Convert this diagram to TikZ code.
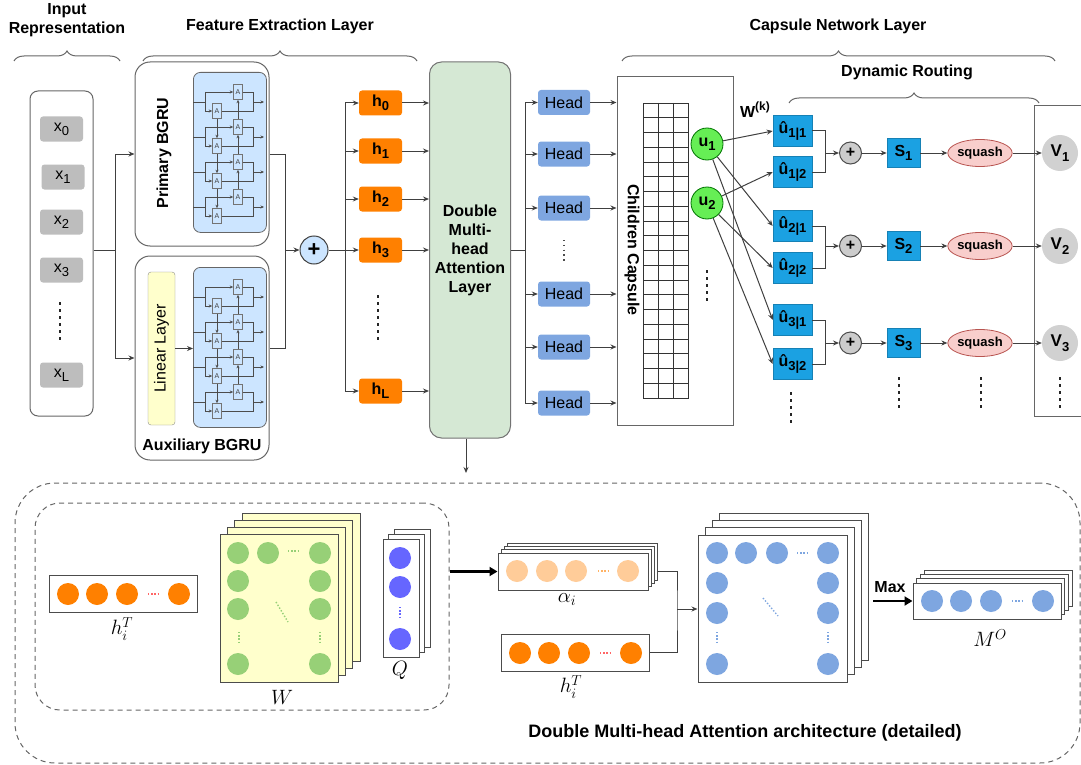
\documentclass[tikz,border=0pt]{standalone}
\usepackage{fontspec}
\setmainfont{Liberation Sans}
\usetikzlibrary{positioning,arrows.meta,calc,shapes.geometric,decorations.pathreplacing}

\definecolor{xgray}{HTML}{BDBDBD}
\definecolor{panelblue}{HTML}{CCE5FF}
\definecolor{linyellow}{HTML}{FFFFCC}
\definecolor{horange}{HTML}{FF8000}
\definecolor{attgreen}{HTML}{D5E8D4}
\definecolor{headblue}{HTML}{7EA6E0}
\definecolor{ugreen}{HTML}{66EE55}
\definecolor{routeblue}{HTML}{1BA1E2}
\definecolor{squashfill}{HTML}{F8CECC}
\definecolor{squashline}{HTML}{B85450}
\definecolor{lorange}{HTML}{FFCC99}
\definecolor{wgreen}{HTML}{97D077}
\definecolor{qblue}{HTML}{6666FF}
\definecolor{dotpink}{HTML}{FF6666}
\definecolor{dotorange}{HTML}{FFB366}

% lowered / raised small text for indices
\newcommand\sbs[1]{\raisebox{-0.5ex}{\fontsize{13}{13}\selectfont #1}}
\newcommand\sps[1]{\raisebox{0.8ex}{\fontsize{12}{12}\selectfont #1}}

\tikzset{
  lbl/.style={font=\fontsize{16}{19}\selectfont},
  blbl/.style={font=\fontsize{16}{19}\selectfont\bfseries},
  mlbl/.style={font=\fontsize{22}{24}\selectfont},
  ln/.style={draw=black!75, line width=1pt},
  arr/.style={ln, -{Stealth[length=6pt,width=5pt]}},
  bigarr/.style={draw=black, line width=2.4pt, -{Triangle[length=8pt,width=9pt]}},
  brc/.style={draw=black!60, line width=1pt, decorate, decoration={brace, amplitude=10pt}},
  frame/.style={draw=black!60, line width=1pt, fill=white, inner sep=0pt},
  xin/.style={lbl, fill=xgray, rounded corners=3pt, minimum width=43pt, minimum height=25pt, inner sep=0pt},
  linbox/.style={lbl, draw=black!45, fill=linyellow, rounded corners=3pt, inner sep=0pt},
  bigsum/.style={circle, draw=black!75, line width=1pt, fill=panelblue, minimum size=28pt, inner sep=0pt, font=\fontsize{22}{22}\selectfont\bfseries},
  hbox/.style={blbl, fill=horange, rounded corners=3pt, minimum width=43pt, minimum height=25pt, inner sep=0pt},
  attbox/.style={blbl, draw=black!55, line width=1pt, fill=attgreen, rounded corners=12pt, minimum width=81pt, minimum height=376pt, align=center},
  headbox/.style={lbl, fill=headblue, rounded corners=3pt, minimum width=52pt, minimum height=25pt, inner sep=0pt},
  gridln/.style={draw=black!80, line width=0.8pt},
  ucap/.style={circle, blbl, draw=green!45!black, line width=0.8pt, fill=ugreen, minimum size=32pt, inner sep=0pt},
  uhat/.style={blbl, fill=routeblue, draw=routeblue!80!black, line width=0.6pt, minimum width=39pt, minimum height=31pt, inner sep=0pt},
  sbox/.style={uhat, minimum width=33pt, minimum height=29pt},
  sum/.style={circle, draw=black!70, line width=1pt, fill=black!20, minimum size=22pt, inner sep=0pt, font=\fontsize{16}{16}\selectfont\bfseries},
  squash/.style={ellipse, draw=squashline, line width=0.8pt, fill=squashfill, minimum width=60pt, minimum height=27pt, inner sep=0pt, font=\fontsize{13}{13}\selectfont\bfseries},
  vcap/.style={circle, fill=black!18, minimum size=36pt, inner sep=0pt, font=\fontsize{17}{17}\selectfont\bfseries},
  vdots/.style={draw=black!85, line width=2.5pt, dash pattern=on 2.5pt off 4.5pt},
  sdots/.style={draw=black!70, line width=1.4pt, dash pattern=on 1.4pt off 3.4pt},
  hdots/.style={line width=1.4pt, dash pattern=on 1.4pt off 1.8pt},
  dashbox/.style={draw=black!60, line width=1pt, dash pattern=on 5pt off 4pt, inner sep=0pt},
  layer/.style={draw=black!70, line width=1pt, fill=white, inner sep=0pt},
  dot/.style={circle, minimum size=22pt, inner sep=0pt},
  % little BGRU cells
  bgrupanel/.style={draw=black!60, line width=0.8pt, fill=panelblue, rounded corners=7pt, minimum width=73pt, minimum height=160pt, inner sep=0pt},
  acell/.style={draw=black!55, line width=0.6pt, fill=panelblue, minimum width=9pt, minimum height=15pt, inner sep=0pt, font=\fontsize{7}{7}\selectfont, text=black!75},
  cellline/.style={draw=black!70, line width=0.6pt},
  celltip/.style={cellline, -{Stealth[length=3.5pt,width=3pt]}},
}

% bidirectional GRU icon: #1 name, (#2,#3) top left corner
\newcommand\bgrucell[3]{%
  \node[bgrupanel, anchor=north west] (#1) at (#2,#3) {};
  \foreach \k in {0,...,3}{%
    \pgfmathsetmacro\yin{#3+30+35*\k}
    \node[acell] (#1b\k) at (#2+45,\yin-10) {A};
    \node[acell] (#1f\k) at (#2+24,\yin+9) {A};
    \draw[cellline] (#2,\yin) -- (#2+12,\yin) (#2+12,\yin-10) -- (#2+12,\yin+9);
    \draw[celltip] (#2+12,\yin-10) -- (#1b\k.west);
    \draw[celltip] (#2+12,\yin+9) -- (#1f\k.west);
    \draw[cellline] (#1b\k.east) -- (#2+60,\yin-10) -- (#2+60,\yin+9) -- (#1f\k.east);
    \draw[celltip] (#2+60,\yin) -- (#2+71,\yin);
  }
  \foreach \k [evaluate=\k as \kn using int(\k+1)] in {0,1,2}{%
    \draw[celltip] (#1f\k.south) -- (#1f\kn.north);
    \draw[celltip] (#1b\kn.north) -- (#1b\k.south);
  }
}

\begin{document}
\begin{tikzpicture}[x=1pt,y=-1pt]
\useasboundingbox (0,0) rectangle (1081,765);

% section titles
\node[blbl, align=center] (t-in) at (67,20) {Input\\Representation};
\node[blbl] (t-fe) at (280,26) {Feature Extraction Layer};
\node[blbl] (t-cn) at (838,26) {Capsule Network Layer};
\node[blbl] (t-dr) at (907,72) {Dynamic Routing};
\draw[brc] (14,61) -- (120,61);
\draw[brc] (143,61) -- (417,61);
\draw[brc] (622,61) -- (1055,61);
\draw[brc] (789,103) -- (1039,103);

% input tokens
\node[frame, rounded corners=8pt, minimum width=63pt, minimum height=325pt] (inp) at (61.5,253.5) {};
\node[xin] (x0) at (61.5,129) {x\sbs{0}};
\node[xin] (x1) at (63,177) {x\sbs{1}};
\node[xin] (x2) at (61.5,222) {x\sbs{2}};
\node[xin] (x3) at (61.5,270) {x\sbs{3}};
\node[xin] (xL) at (61.5,375) {x\sbs{L}};
\draw[vdots] (60,302) -- (60,342);

% primary and auxiliary BGRU
\node[frame, rounded corners=15pt, minimum width=134pt, minimum height=184pt] (prim) at (202,154) {};
\node[blbl, rotate=90] (prim-t) at (164,153) {Primary BGRU};
\bgrucell{pc}{193}{72}
\node[frame, rounded corners=15pt, minimum width=134pt, minimum height=204pt] (aux) at (202,358) {};
\node[blbl] (aux-t) at (202,446) {Auxiliary BGRU};
\node[linbox, rotate=90, minimum width=153pt, minimum height=27pt] (lin) at (161.5,348.5) {Linear Layer};
\bgrucell{ac}{193}{267}
\draw[arr] (lin) -- (lin -| ac.west);

\node[bigsum] (plus) at (314,250) {+};
\draw[ln] (inp.east |- plus) -- ++(22,0) coordinate (j1);
\draw[arr] (j1) |- (prim.west);
\draw[arr] (j1) |- (aux.west);
\draw[ln] (prim.east) -- ++(16,0) coordinate (j2) |- (aux.east |- lin);
\draw[arr] (j2 |- plus) -- (plus);

% hidden states
\foreach \n/\yy in {0/103,1/151,2/199,3/250,L/391}
  \node[hbox] (h\n) at (380.5,\yy) {h\sbs{\n}};
\draw[vdots] (378,295) -- (378,343);
\coordinate (j3) at (345,250);
\draw[ln] (plus) -- (j3);
\draw[ln] (j3 |- h0) -- (j3 |- hL);
\node[attbox] (att) at (470,250) {Double\\Multi-\\head\\Attention\\Layer};
\foreach \n in {0,1,2,3,L}{
  \draw[arr] (j3 |- h\n) -- (h\n.west);
  \draw[arr] (h\n.east) -- (h\n.east -| att.west);}

% heads
\foreach \n/\yy in {1/102.5,2/154,3/208,4/294,5/347,6/403}
  \node[headbox] (hd\n) at (564,\yy) {Head};
\draw[sdots] (564,240) -- (564,263);
\node[frame, minimum width=116pt, minimum height=348pt] (cap) at (675,251) {};
\coordinate (j4) at (525,250);
\draw[ln] (att.east) -- (j4);
\draw[ln] (j4 |- hd1) -- (j4 |- hd6);
\foreach \n in {1,...,6}{
  \draw[arr] (j4 |- hd\n) -- (hd\n.west);
  \draw[arr] (hd\n.east) -- (hd\n.east -| cap.west);}

% children capsule grid
\node[blbl, rotate=-90] (cap-t) at (632,250) {Children Capsule};
\draw[gridln] (643,103) rectangle (688,398);
\foreach \c in {1,2}
  \draw[gridln] (643+15*\c,103) -- (643+15*\c,398);
\foreach \r in {1,...,19}
  \draw[gridln] (643,103+14.75*\r) -- (688,103+14.75*\r);
\node[ucap] (u1) at (707,144) {u\sbs{1}};
\node[ucap] (u2) at (707,203) {u\sbs{2}};
\draw[vdots] (707,270) -- (707,303);
\node[blbl] (wk) at (755,110) {W\sps{(k)}};

% dynamic routing
\foreach \a/\b/\yy in {1/1/131,1/2/172,2/1/226,2/2/268,3/1/320,3/2/364}
  \node[uhat] (uh\a\b) at (792.5,\yy) {\^u\sbs{\a|\b}};
\draw[vdots] (791,392) -- (791,425);
\draw[arr] (u1) -- (uh11.west);
\draw[arr] (u2) -- (uh12.west);
\draw[arr] (u1) -- (uh21.west);
\draw[arr] (u2) -- (uh22.west);
\draw[arr] (u1) -- (uh31.west);
\draw[arr] (u2) -- (uh32.west);
\draw[ln, draw=black!60] (1090,106) -- (1034,106) -- (1034,416) -- (1090,416);
\foreach \k/\yy in {1/153,2/246,3/343}{
  \node[sum] (pl\k) at (850.5,\yy) {+};
  \node[sbox] (s\k) at (903.5,\yy) {S\sbs{\k}};
  \node[squash] (sq\k) at (980,\yy) {squash};
  \node[vcap] (v\k) at (1060,\yy) {V\sbs{\k}};
  \draw[ln] (uh\k1.east) -- ++(13,0) coordinate (br\k) |- (uh\k2.east);
  \draw[arr] (br\k |- pl\k) -- (pl\k);
  \draw[arr] (pl\k) -- (s\k);
  \draw[arr] (s\k) -- (sq\k);
  \draw[arr] (sq\k) -- (v\k);}
\draw[vdots] (899,377) -- (899,410);
\draw[vdots] (981,377) -- (981,410);
\draw[vdots] (1060,377) -- (1060,410);

% detailed attention block
\node[dashbox, rounded corners=40pt, minimum width=1065pt, minimum height=280pt] (dmha) at (547.5,623) {};
\node[dashbox, rounded corners=25pt, minimum width=414pt, minimum height=207pt] (qk) at (242,606.5) {};
\coordinate (down) at (466,473);
\draw[arr] (att.south -| down) -- (down);

% h_i^T row
\node[layer, minimum width=148pt, minimum height=37pt] (hl) at (123,593.5) {};
\foreach \xx in {68,97,127,179}
  \node[dot, fill=horange] at (\xx,594) {};
\draw[hdots, dotpink] (148,594) -- (159,594);
\node[mlbl, anchor=north] (hl-t) at (122,614) {$h_i^T$};

% W stack
\foreach \k in {3,2,1}
  \node[layer, fill=linyellow, minimum width=118pt, minimum height=148pt] (w\k) at (279+7.4*\k,608-7*\k) {};
\node[layer, fill=linyellow, minimum width=118pt, minimum height=148pt] (w) at (279,608) {};
\foreach \xx/\yy in {238/553,268/553,320/553,238/581,320/581,238/609,320/609,238/664,320/664}
  \node[dot, fill=wgreen] at (\xx,\yy) {};
\draw[hdots, wgreen] (288,551) -- (299,551);
\draw[hdots, wgreen] (239,632) -- (239,644);
\draw[hdots, wgreen] (320,632) -- (320,644);
\draw[hdots, wgreen] (276,602) -- (288,622);
\node[mlbl] (w-t) at (282,697) {$W$};

% Q stack
\foreach \k in {2,1}
  \node[layer, minimum width=36pt, minimum height=118pt] (q\k) at (401+5.5*\k,598-5*\k) {};
\node[layer, minimum width=36pt, minimum height=118pt] (q) at (401,598) {};
\foreach \yy in {558,587,639}
  \node[dot, fill=qblue] at (400,\yy) {};
\draw[hdots, qblue] (400,607) -- (400,619);
\node[mlbl] (q-t) at (400,670) {$Q$};

% alpha stack
\foreach \k in {3,2,1}
  \node[layer, minimum width=150pt, minimum height=37pt] (al\k) at (573+3.3*\k,571.5-3.3*\k) {};
\node[layer, minimum width=150pt, minimum height=37pt] (al) at (573,571.5) {};
\foreach \xx in {517,547,576,628}
  \node[dot, fill=lorange] at (\xx,571) {};
\draw[hdots, dotorange] (598,571) -- (609,571);
\node[mlbl, anchor=north] (al-t) at (567,590) {$\alpha_i$};
\draw[bigarr] (qk.east |- al) -- (al.west);

% h_i^T again
\node[layer, minimum width=148pt, minimum height=37pt] (hr) at (575,652.5) {};
\foreach \xx in {520,549,579,631}
  \node[dot, fill=horange] at (\xx,653) {};
\draw[hdots, dotpink] (600,653) -- (611,653);
\node[mlbl, anchor=north] (hr-t) at (571,672) {$h_i^T$};

% attention matrix stack
\foreach \k in {3,2,1}
  \node[layer, minimum width=149pt, minimum height=147pt] (mx\k) at (772.5+7.3*\k,608.5-7.3*\k) {};
\node[layer, minimum width=149pt, minimum height=147pt] (mx) at (772.5,608.5) {};
\foreach \xx/\yy in {717/553,746/553,777/553,828/553,717/583,828/583,717/613,828/613,717/664,828/664}
  \node[dot, fill=headblue] at (\xx,\yy) {};
\draw[hdots, headblue] (797,553) -- (808,553);
\draw[hdots, headblue] (717,632) -- (717,644);
\draw[hdots, headblue] (828,632) -- (828,644);
\draw[hdots, headblue] (763,598) -- (778,616);
\coordinate (mj) at (677,609);
\draw[ln] (al.east -| al3.east) -| (mj) |- (hr.east);
\draw[arr] (mj) -- (mj -| mx.west);

% max pooled output
\foreach \k in {3,2,1}
  \node[layer, minimum width=148pt, minimum height=36pt] (mo\k) at (987+3.7*\k,601-4.3*\k) {};
\node[layer, minimum width=148pt, minimum height=36pt] (mo) at (987,601) {};
\foreach \xx in {932,961,991,1043}
  \node[dot, fill=headblue] at (\xx,601) {};
\draw[hdots, headblue] (1012,601) -- (1023,601);
\draw[bigarr] ($(mo -| mx3.east)+(4,0)$) -- (mo.west);
\node[blbl] (max-t) at (890,587) {Max};
\node[mlbl] (mo-t) at (990,638) {$M^O$};

\node[font=\fontsize{18}{20}\selectfont\bfseries] (dmha-t) at (745,733) {Double Multi-head Attention architecture (detailed)};
\end{tikzpicture}
\end{document}
